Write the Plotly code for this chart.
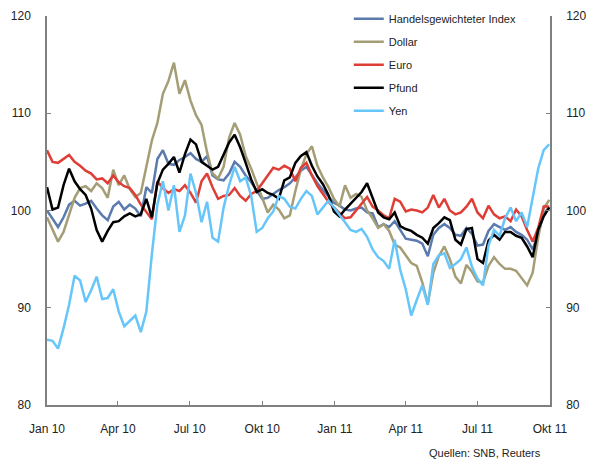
import pandas as pd
import plotly.graph_objects as go

# weekly observations, Jan 2010 - Sep 2011
dates = pd.date_range("2010-01-01", periods=92, freq="7D")

series_names = ["Handelsgewichteter Index", "Dollar", "Euro", "Pfund", "Yen"]

index_vals = [100.0, 99.1, 98.3, 99.3, 100.6, 101.0, 100.5, 100.7, 101.0, 100.2,
              99.5, 99.0, 100.4, 100.9, 100.1, 100.6, 100.2, 99.4, 102.4, 101.8,
              105.3, 106.2, 104.8, 104.7, 105.2, 105.5, 105.9, 105.3, 105.0, 105.6,
              103.6, 103.2, 103.1, 103.8, 105.0, 104.5, 103.6, 102.9, 102.0, 101.2,
              101.3, 101.7, 102.1, 102.4, 102.8, 103.4, 104.1, 104.5, 103.6, 102.8,
              102.1, 101.4, 100.8, 100.5, 100.1, 100.0, 100.2, 100.3, 99.8, 99.7,
              98.3, 98.6, 98.3, 98.9, 98.0, 97.1, 97.0, 96.9, 96.6, 95.3,
              97.5, 98.2, 98.6, 98.2, 97.5, 97.4, 98.2, 97.6, 96.4, 96.5,
              97.9, 98.6, 98.3, 98.0, 98.3, 97.8, 97.5, 97.0, 96.0, 97.6,
              99.6, 100.4]

dollar_vals = [99.3, 98.0, 96.8, 97.8, 99.5, 101.3, 102.3, 102.5, 102.0, 102.8,
               102.3, 101.3, 104.2, 102.6, 103.6, 102.2, 101.4, 101.8, 104.5, 107.2,
               109.0, 112.0, 113.3, 115.2, 112.0, 113.4, 111.3, 109.8, 108.8, 106.0,
               103.8, 103.3, 104.5, 107.5, 109.0, 107.8, 105.6, 104.3, 102.8, 101.4,
               99.8, 100.6, 100.1, 99.2, 99.5, 102.0, 104.2, 105.8, 106.6, 104.6,
               103.4, 102.4, 101.2, 100.4, 102.6, 101.3, 101.7, 101.4, 100.0, 99.2,
               98.2, 98.6, 97.9, 96.5, 96.2, 95.4, 94.6, 94.3, 92.6, 90.4,
               93.6, 95.3, 96.3, 95.0, 93.2, 92.5, 94.4, 93.7, 92.7, 92.6,
               94.3, 95.2, 94.5, 94.0, 94.0, 93.8, 93.0, 92.3, 93.6, 97.2,
               100.2, 101.1]

euro_vals = [106.2, 105.0, 104.9, 105.3, 105.7, 105.0, 104.6, 104.1, 103.8, 103.2,
             103.3, 102.8, 103.6, 102.9, 102.5, 102.3, 101.6, 100.6, 99.8, 99.1,
             103.0, 102.3, 101.8, 102.2, 102.0, 102.6, 101.8, 100.8, 103.0, 103.8,
             102.4, 101.2, 101.5, 101.6, 102.3, 101.5, 101.0, 101.7, 102.0, 102.8,
             103.5, 104.4, 104.2, 104.6, 104.3, 103.0, 104.4, 104.9, 103.6, 102.5,
             101.7, 100.9, 100.3, 99.8, 99.2, 99.3, 100.0, 100.8, 101.4, 100.4,
             100.0, 99.5, 99.2, 101.2, 100.9, 99.9, 100.1, 100.0, 99.8, 100.3,
             101.6, 100.3, 101.2, 100.0, 99.6, 99.8, 100.4, 101.2, 99.8, 99.2,
             100.5, 99.6, 99.2, 99.4, 98.9, 100.1, 99.4, 98.0, 96.8, 98.2,
             100.4, 100.4]

pfund_vals = [102.4, 100.1, 100.3, 102.6, 104.3, 103.0, 102.2, 101.6, 100.2, 98.0,
              96.8, 97.9, 98.8, 98.9, 99.4, 99.7, 99.4, 99.6, 101.2, 99.3,
              102.8, 104.2, 104.8, 105.5, 103.9, 105.8, 107.3, 106.8, 105.0, 104.6,
              104.2, 104.5, 105.8, 107.0, 107.8, 106.5, 104.9, 103.2, 101.9, 102.2,
              101.8, 101.6, 101.2, 103.1, 103.4, 104.9, 105.6, 106.0, 104.6, 103.5,
              102.7, 101.6, 99.9, 99.4, 100.1, 100.7, 101.3, 101.9, 102.8, 101.2,
              99.8, 99.3, 99.1, 99.8, 98.4, 98.1, 97.9, 97.5, 97.2, 96.6,
              98.2, 98.7, 99.3, 99.0, 97.0, 96.5, 98.1, 98.2, 95.0, 94.6,
              96.9, 97.5, 97.0, 97.8, 97.8, 97.4, 97.2, 96.3, 95.2, 98.0,
              99.4, 100.3]

yen_vals = [86.7, 86.6, 85.8, 87.9, 90.3, 93.3, 92.8, 90.6, 91.8, 93.2,
            90.9, 91.0, 91.9, 89.6, 88.1, 88.6, 89.2, 87.5, 89.6, 95.5,
            100.6, 103.0, 100.0, 102.6, 97.8, 99.5, 103.8, 101.8, 98.8, 100.9,
            97.2, 96.8, 100.3, 102.6, 104.5, 103.0, 103.4, 101.5, 97.8, 98.2,
            99.2, 99.9, 101.5, 101.2, 100.4, 100.2, 101.2, 102.0, 101.5, 99.6,
            100.3, 101.0, 100.3, 99.6, 98.8, 98.0, 97.8, 98.1, 97.3, 96.0,
            95.2, 94.8, 94.0, 97.0, 93.9, 91.9, 89.2, 90.8, 92.3, 90.3,
            94.5, 95.4, 95.6, 94.1, 94.5, 95.0, 96.2, 94.2, 93.0, 92.3,
            96.4, 98.0, 97.4, 99.2, 100.3, 98.9, 99.8, 98.3, 101.5, 104.3,
            106.2, 106.8]

tick_dates = ["2010-01-01", "2010-04-01", "2010-07-01", "2010-10-01",
              "2011-01-01", "2011-04-01", "2011-07-01", "2011-10-01"]
tick_labels = ["Jan 10", "Apr 10", "Jul 10", "Okt 10",
               "Jan 11", "Apr 11", "Jul 11", "Okt 11"]
y_ticks = [80, 90, 100, 110, 120]
source_text = "Quellen: SNB, Reuters"

colors = ["#5B7BAE", "#A59D76", "#DE3E36", "#000000", "#66C6FA"]
all_vals = [index_vals, dollar_vals, euro_vals, pfund_vals, yen_vals]

fig = go.Figure()
for i, (name, vals, col) in enumerate(zip(series_names, all_vals, colors)):
    fig.add_trace(go.Scatter(x=dates, y=vals, name=name, mode="lines",
                             line=dict(color=col, width=2.5),
                             legendgroup=f"g{i}"))

# carrier trace for the right-hand axis
fig.add_trace(go.Scatter(x=dates, y=euro_vals, yaxis="y2", mode="lines",
                         line=dict(width=0, color="rgba(0,0,0,0)"),
                         showlegend=False, hoverinfo="skip"))

font = dict(family="Liberation Sans, Arial, sans-serif", size=12, color="#222222")
axis_common = dict(showline=True, linecolor="#808080", linewidth=1.5,
                   ticks="inside", ticklen=4, tickcolor="#808080", tickwidth=1.2,
                   showgrid=False, zeroline=False, tickfont=font)

fig.update_layout(
    width=595, height=460,
    margin=dict(l=47, r=45, t=16, b=55, autoexpand=False),
    paper_bgcolor="white", plot_bgcolor="white",
    font=font,
    showlegend=True,
    legend=dict(x=0.6, xanchor="left", y=1.03, yanchor="top",
                bgcolor="rgba(0,0,0,0)", font=dict(family=font["family"], size=11, color="#222222"),
                tracegroupgap=4, traceorder="grouped", itemwidth=30),
    xaxis=dict(type="date", range=["2010-01-01", "2011-10-01"],
               tickvals=tick_dates, ticktext=tick_labels,
               ticklabelstandoff=12, **axis_common),
    yaxis=dict(range=[80, 120], tickvals=y_ticks, side="left",
               ticklabelstandoff=12, **axis_common),
    yaxis2=dict(range=[80, 120], tickvals=y_ticks, side="right", overlaying="y",
                ticklabelstandoff=12, **axis_common),
    annotations=[dict(text=source_text, xref="paper", yref="paper",
                      x=0.986, y=-0.123, xanchor="right", yanchor="middle",
                      showarrow=False,
                      font=dict(family=font["family"], size=11, color="#222222"))],
)

fig.write_html("out.html", config={"displayModeBar": False},
               post_script="document.body.style.margin='0';")
